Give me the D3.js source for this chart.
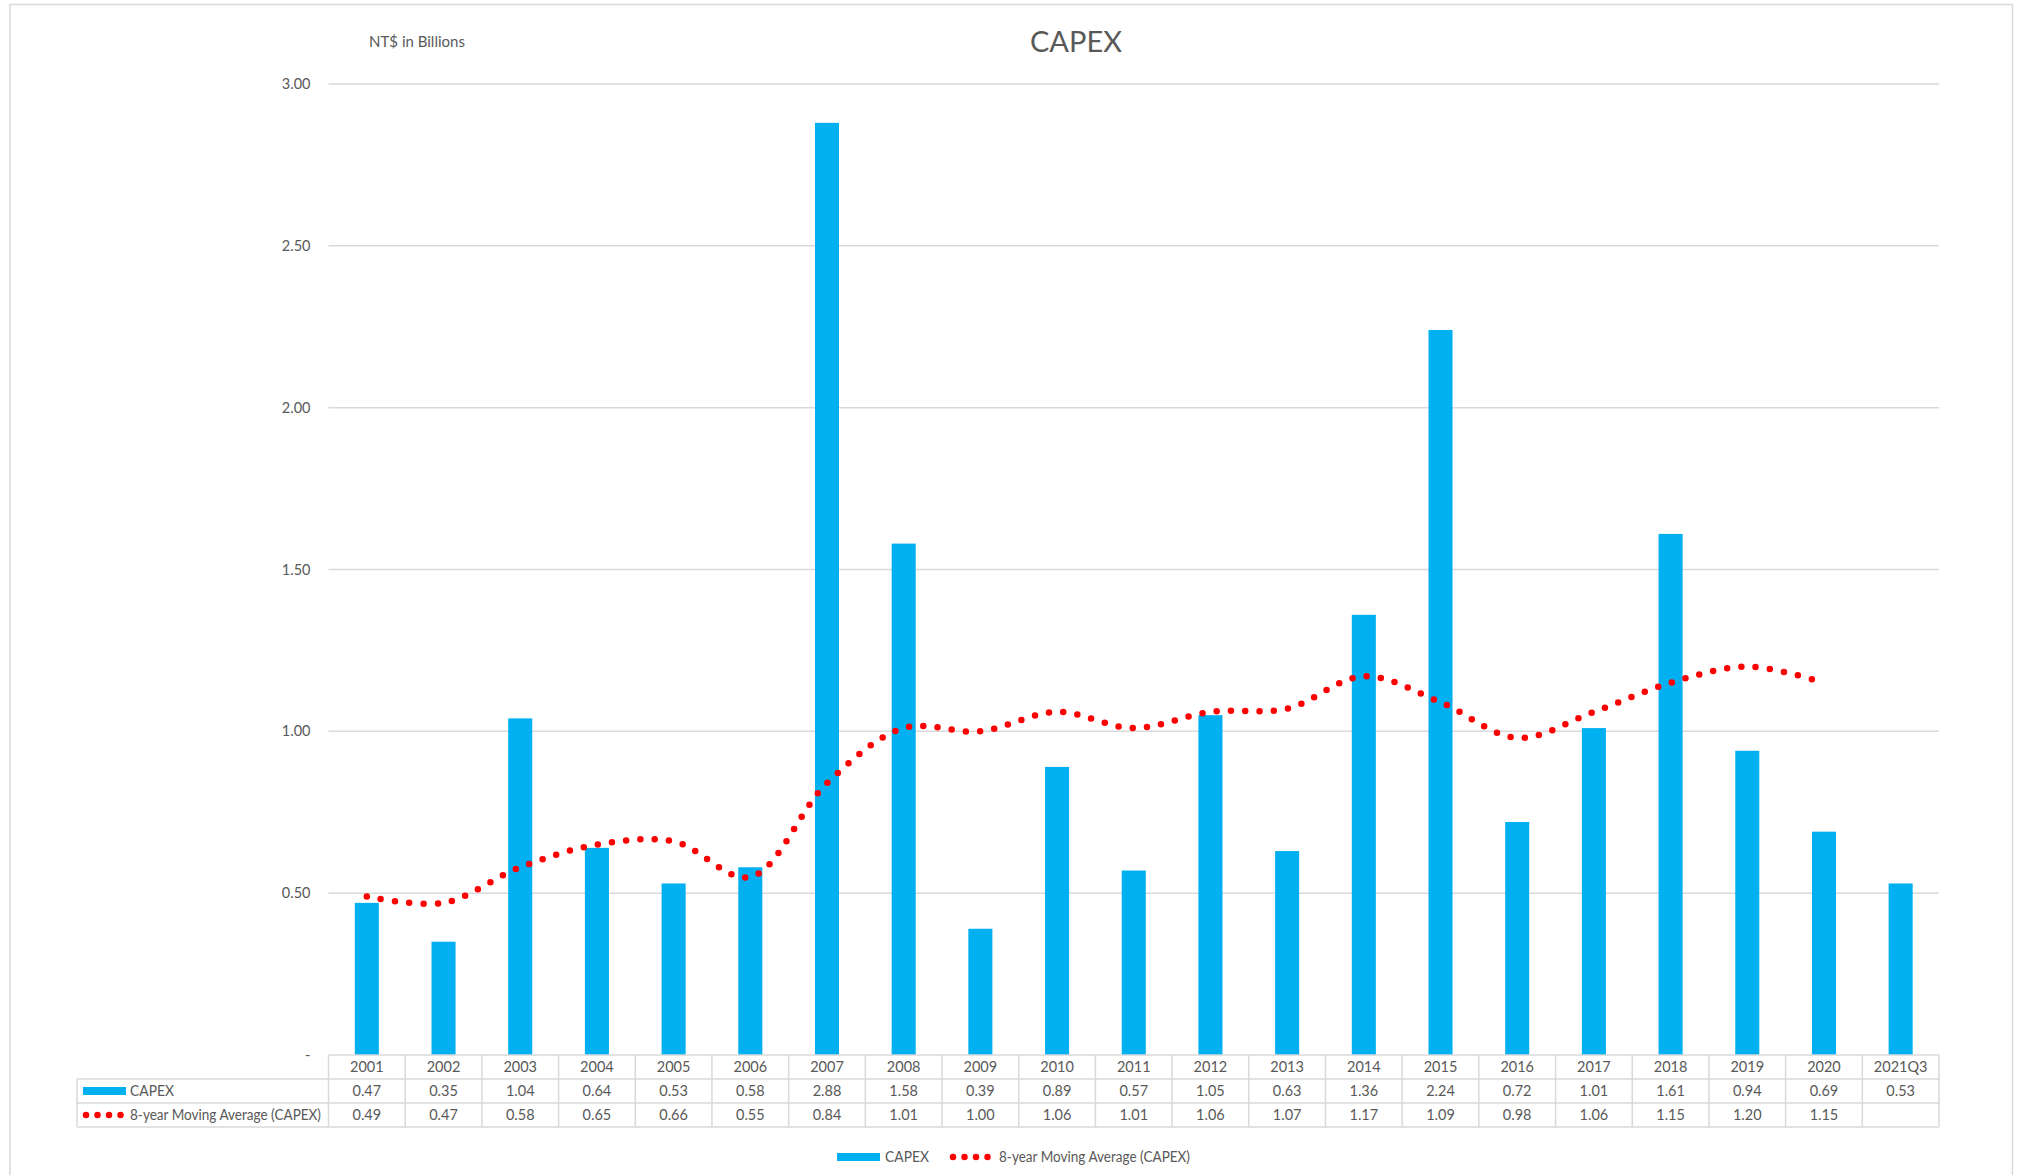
<!DOCTYPE html>
<html>
<head>
<meta charset="utf-8">
<script src="https://cdn.jsdelivr.net/npm/d3@7"></script>
<style>
  html, body { margin: 0; padding: 0; background: #fff; }
  svg { display: block; font-family: Lato, "Open Sans", sans-serif; }
</style>
</head>
<body>
<svg id="chart" width="2020" height="1175"></svg>
<script>
// Chart data
const years = ['2001','2002','2003','2004','2005','2006','2007','2008','2009','2010','2011',
  '2012','2013','2014','2015','2016','2017','2018','2019','2020','2021Q3'];
const capex = [0.47,0.35,1.04,0.64,0.53,0.58,2.88,1.58,0.39,0.89,0.57,
  1.05,0.63,1.36,2.24,0.72,1.01,1.61,0.94,0.69,0.53];
const movingAvg = [0.49,0.47,0.58,0.65,0.66,0.55,0.84,1.01,1.00,1.06,1.01,
  1.06,1.07,1.17,1.09,0.98,1.06,1.15,1.20,1.15,null];
const yTicks = [0, 0.5, 1, 1.5, 2, 2.5, 3];
const seriesNames = ['CAPEX', '8-year Moving Average (CAPEX)'];

const barColor = '#00b0f0';
const lineColor = '#ff0000';
const gridColor = '#d9d9d9';
const textColor = '#595959';

const svg = d3.select('#chart');

// Outer frame
svg.append('path')
  .attr('d', 'M10,1175 V4.5 H2012.5 V1175')
  .attr('fill', 'none')
  .attr('stroke', gridColor)
  .attr('stroke-width', 1.5);

const plot = { left: 328.5, right: 1939, top: 84, bottom: 1055 };

const x = d3.scaleBand().domain(years).range([plot.left, plot.right]).padding(0);
const y = d3.scaleLinear().domain([0, 3]).range([plot.bottom, plot.top]);
const barW = x.bandwidth() / 3.19;

// Title + unit label
svg.append('text')
  .attr('x', 1076).attr('y', 52)
  .attr('text-anchor', 'middle')
  .attr('font-size', 29)
  .attr('fill', textColor)
  .text('CAPEX');

svg.append('text')
  .attr('x', 417).attr('y', 47)
  .attr('text-anchor', 'middle')
  .attr('font-size', 15)
  .attr('fill', textColor)
  .text('NT$ in Billions');

// Gridlines
svg.append('g')
  .selectAll('line')
  .data(yTicks.filter(d => d > 0))
  .join('line')
  .attr('x1', plot.left).attr('x2', plot.right)
  .attr('y1', d => y(d)).attr('y2', d => y(d))
  .attr('stroke', gridColor)
  .attr('stroke-width', 1.5);

// Y axis labels
const yAxis = d3.axisLeft(y)
  .tickValues(yTicks)
  .tickSize(0)
  .tickPadding(18)
  .tickFormat(d => d === 0 ? '-' : d3.format('.2f')(d));

const yg = svg.append('g')
  .attr('transform', `translate(${plot.left},0)`)
  .call(yAxis);
yg.select('.domain').remove();
yg.selectAll('text')
  .attr('font-size', 14.5)
  .attr('fill', textColor)
  .attr('font-family', 'Lato, "Open Sans", sans-serif');

// Bars
svg.append('g')
  .selectAll('rect')
  .data(capex)
  .join('rect')
  .attr('x', (d, i) => x(years[i]) + (x.bandwidth() - barW) / 2)
  .attr('y', d => y(d))
  .attr('width', barW)
  .attr('height', d => y(0) - y(d))
  .attr('fill', barColor);

// Moving average line (smoothed, round dots)
const maPoints = movingAvg.map((v, i) => ({ year: years[i], v })).filter(d => d.v !== null);
const line = d3.line()
  .x(d => x(d.year) + x.bandwidth() / 2)
  .y(d => y(d.v))
  .curve(d3.curveCatmullRom.alpha(0.5));

svg.append('path')
  .datum(maPoints)
  .attr('d', line)
  .attr('fill', 'none')
  .attr('stroke', lineColor)
  .attr('stroke-width', 6.5)
  .attr('stroke-linecap', 'round')
  .attr('stroke-dasharray', '0 14.3');

// Data table
const rowTop = [1055, 1079, 1103];
const rowH = 24;
const tableLeft = 77;
const table = svg.append('g');

// horizontal lines
table.append('line')
  .attr('x1', plot.left).attr('x2', plot.right)
  .attr('y1', rowTop[0]).attr('y2', rowTop[0]);
[rowTop[1], rowTop[2], rowTop[2] + rowH].forEach(yy => {
  table.append('line')
    .attr('x1', tableLeft).attr('x2', plot.right)
    .attr('y1', yy).attr('y2', yy);
});
// vertical lines
table.append('line')
  .attr('x1', tableLeft).attr('x2', tableLeft)
  .attr('y1', rowTop[1]).attr('y2', rowTop[2] + rowH);
years.concat(['end']).forEach((yr, i) => {
  const xx = i < years.length ? x(yr) : plot.right;
  table.append('line')
    .attr('x1', xx).attr('x2', xx)
    .attr('y1', rowTop[0]).attr('y2', rowTop[2] + rowH);
});
table.selectAll('line')
  .attr('stroke', gridColor)
  .attr('stroke-width', 1.5);

// header row
table.append('g')
  .selectAll('text')
  .data(years)
  .join('text')
  .attr('x', d => x(d) + x.bandwidth() / 2)
  .attr('y', rowTop[0] + rowH / 2 + 5)
  .attr('text-anchor', 'middle')
  .attr('font-size', 14.5)
  .attr('fill', textColor)
  .text(d => d);

// value rows
[capex, movingAvg].forEach((vals, r) => {
  table.append('g')
    .selectAll('text')
    .data(vals)
    .join('text')
    .attr('x', (d, i) => x(years[i]) + x.bandwidth() / 2)
    .attr('y', rowTop[r + 1] + rowH / 2 + 5)
    .attr('text-anchor', 'middle')
    .attr('font-size', 14.5)
    .attr('fill', textColor)
    .text(d => d === null ? '' : d3.format('.2f')(d));
});

// legend keys
function legendKey(g, kind, x0, yc) {
  if (kind === 0) {
    g.append('rect')
      .attr('x', x0).attr('y', yc - 4)
      .attr('width', 43).attr('height', 8)
      .attr('fill', barColor);
  } else {
    g.append('line')
      .attr('x1', x0 + 3).attr('x2', x0 + 40)
      .attr('y1', yc).attr('y2', yc)
      .attr('stroke', lineColor)
      .attr('stroke-width', 6.5)
      .attr('stroke-linecap', 'round')
      .attr('stroke-dasharray', '0 11.5');
  }
}

// long label is squeezed to the width Calibri gives it in the original
function labelText(g, name, x0, yBase, r) {
  const t = g.append('text')
    .attr('x', x0).attr('y', yBase)
    .attr('font-size', 14.5)
    .attr('fill', textColor)
    .text(name);
  if (r === 1) t.attr('textLength', 191).attr('lengthAdjust', 'spacingAndGlyphs');
  if (r === 0) t.attr('textLength', 44).attr('lengthAdjust', 'spacingAndGlyphs');
}

seriesNames.forEach((name, r) => {
  const yc = rowTop[r + 1] + rowH / 2;
  legendKey(table, r, 83, yc);
  labelText(table, name, 130, yc + 5, r);
});

// Bottom legend
const lg = svg.append('g');
const lgY = 1157;
legendKey(lg, 0, 837, lgY);
labelText(lg, seriesNames[0], 885, lgY + 5, 0);
legendKey(lg, 1, 950, lgY);
labelText(lg, seriesNames[1], 999, lgY + 5, 1);
</script>
</body>
</html>
